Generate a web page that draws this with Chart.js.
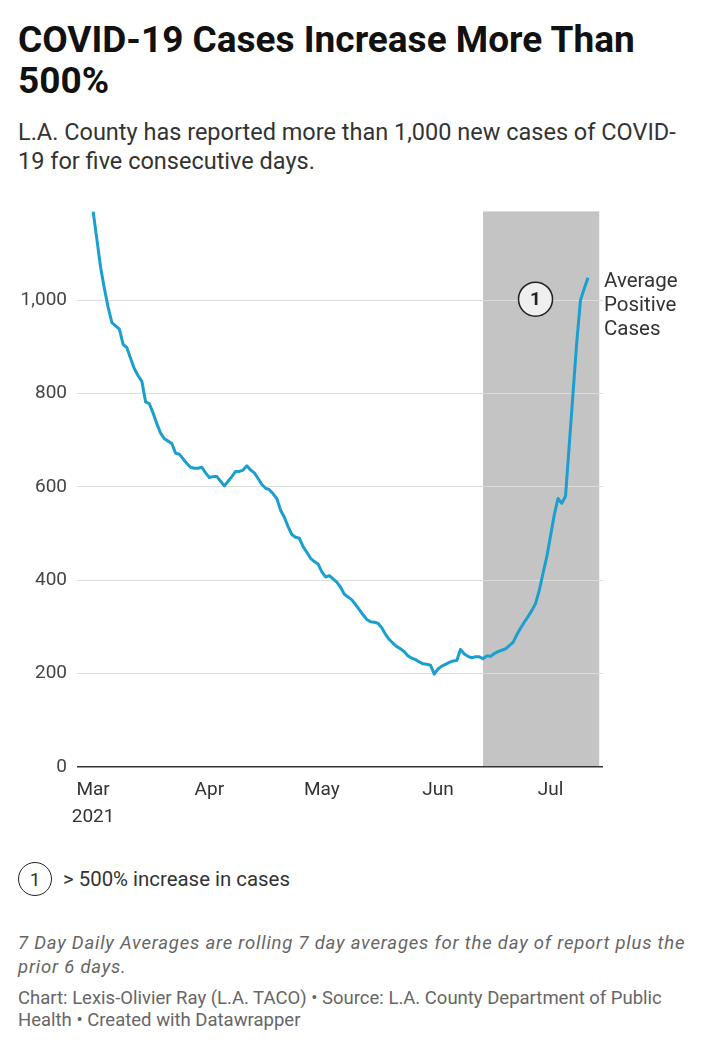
<!DOCTYPE html>
<html lang="en">
<head>
    <meta charset="UTF-8">
    <title>COVID-19 Cases Increase More Than 500%</title>
    <script src="https://cdn.jsdelivr.net/npm/chart.js@4.4.1/dist/chart.umd.min.js"></script>
    <style>
        body {
            margin: 0;
            width: 710px;
            height: 1048px;
            background: #fff;
            font-family: Roboto, Arial, sans-serif;
            color: #222;
            position: relative;
            overflow: hidden;
        }
        .title {
            position: absolute;
            left: 18px;
            top: 19px;
            margin: 0;
            font-size: 37px;
            font-weight: 700;
            line-height: 41px;
            color: #111;
        }
        .subtitle {
            position: absolute;
            left: 18px;
            top: 118px;
            margin: 0;
            font-size: 23.5px;
            line-height: 29px;
            color: #333;
        }
        .chart-box {
            position: absolute;
            left: 0;
            top: 190px;
            width: 710px;
            height: 637px;
        }
        .note-key {
            position: absolute;
            left: 18px;
            top: 862px;
            display: flex;
            align-items: center;
            font-size: 20.4px;
            color: #333;
        }
        .circle {
            width: 34px;
            height: 34px;
            border: 1.5px solid #222;
            border-radius: 50%;
            box-sizing: border-box;
            display: flex;
            align-items: center;
            justify-content: center;
            font-size: 19px;
            margin-right: 11px;
        }
        .notes {
            position: absolute;
            left: 18px;
            top: 931px;
            margin: 0;
            font-size: 18.5px;
            letter-spacing: 0.8px;
            font-style: italic;
            line-height: 24px;
            color: #666;
        }
        .credits {
            position: absolute;
            left: 18px;
            top: 987px;
            margin: 0;
            font-size: 18.5px;
            line-height: 22px;
            color: #666;
        }
    </style>
</head>
<body>
    <h1 class="title">COVID-19 Cases Increase More Than<br>500%</h1>
    <p class="subtitle">L.A. County has reported more than 1,000 new cases of COVID-<br>19 for five consecutive days.</p>
    <div class="chart-box"><canvas id="casesChart"></canvas></div>
    <div class="note-key"><div class="circle">1</div>&gt; 500% increase in cases</div>
    <p class="notes">7 Day Daily Averages are rolling 7 day averages for the day of report plus the<br>prior 6 days.</p>
    <p class="credits">Chart: Lexis-Olivier Ray (L.A. TACO) &bull; Source: L.A. County Department of Public<br>Health &bull; Created with Datawrapper</p>

    <script>
        // 7-day average of new cases, one value per day from Mar 1 2021 (day 0) to Jul 11 2021
        const cases = [
            1190, 1130, 1070, 1025, 985, 952, 945, 938, 905, 898,
            875, 853, 838, 826, 782, 778, 758, 735, 715, 703,
            698, 693, 672, 670, 660, 650, 642, 640, 640, 642,
            630, 620, 622, 622, 612, 602, 612, 622, 633, 633,
            636, 645, 636, 630, 618, 605, 597, 594, 585, 575,
            550, 535, 515, 498, 492, 490, 472, 460, 447, 440,
            435, 418, 407, 410, 403, 396, 385, 370, 364, 358,
            348, 337, 326, 316, 311, 310, 308, 298, 284, 273,
            265, 258, 253, 247, 238, 233, 230, 225, 221, 220,
            218, 199, 210, 216, 220, 224, 227, 228, 252, 242,
            237, 234, 236, 236, 232, 238, 237, 243, 247, 250,
            253, 260, 267, 283, 297, 310, 322, 335, 350, 378,
            415, 450, 495, 540, 575, 565, 580, 690, 800, 910,
            1000, 1025, 1048
        ];

        const monthTicks = [0, 31, 61, 92, 122];
        const monthLabels = [['Mar', '2021'], 'Apr', 'May', 'Jun', 'Jul'];
        const yTicks = [0, 200, 400, 600, 800, 1000];

        // highlighted period: Jun 13 to Jul 14
        const highlightRange = [104, 135];
        const markerPoint = { x: 118, y: 1002, text: '1' };
        const seriesLabel = ['Average', 'Positive', 'Cases'];

        const lineColor = '#1a9fcf';

        const highlightPlugin = {
            id: 'highlight',
            beforeDraw(chart) {
                const { ctx, chartArea, scales } = chart;
                const x0 = scales.x.getPixelForValue(highlightRange[0]);
                const x1 = scales.x.getPixelForValue(highlightRange[1]);
                ctx.save();
                ctx.fillStyle = '#c4c4c4';
                ctx.fillRect(x0, chartArea.top, x1 - x0, chartArea.bottom - chartArea.top);
                ctx.restore();
            },
            afterDatasetsDraw(chart) {
                const { ctx, scales } = chart;
                // numbered marker
                const cx = scales.x.getPixelForValue(markerPoint.x);
                const cy = scales.y.getPixelForValue(markerPoint.y);
                ctx.save();
                ctx.beginPath();
                ctx.arc(cx, cy, 17, 0, Math.PI * 2);
                ctx.fillStyle = '#efefef';
                ctx.fill();
                ctx.lineWidth = 1.5;
                ctx.strokeStyle = '#222';
                ctx.stroke();
                ctx.fillStyle = '#222';
                ctx.font = '700 19px Roboto';
                ctx.textAlign = 'center';
                ctx.textBaseline = 'middle';
                ctx.fillText(markerPoint.text, cx, cy + 1);

                // series label next to the last point
                const meta = chart.getDatasetMeta(0);
                const last = meta.data[meta.data.length - 1];
                ctx.font = '400 20.5px Roboto';
                ctx.fillStyle = '#333';
                ctx.textAlign = 'left';
                seriesLabel.forEach((t, i) => {
                    ctx.fillText(t, last.x + 16, last.y + 4 + i * 24);
                });
                ctx.restore();
            }
        };

        const ctx = document.getElementById('casesChart').getContext('2d');
        new Chart(ctx, {
            type: 'line',
            data: {
                datasets: [{
                    label: 'Average Positive Cases',
                    data: cases.map((v, i) => ({ x: i, y: v })),
                    borderColor: lineColor,
                    borderWidth: 3,
                    borderJoinStyle: 'round',
                    pointRadius: 0,
                    tension: 0
                }]
            },
            options: {
                responsive: true,
                maintainAspectRatio: false,
                animation: false,
                layout: { padding: { top: 19, right: 107, left: 0, bottom: 0 } },
                plugins: {
                    legend: { display: false },
                    tooltip: { enabled: false }
                },
                scales: {
                    x: {
                        type: 'linear',
                        min: -4.3,
                        max: 136,
                        border: { display: false },
                        grid: { display: false, drawTicks: false },
                        afterBuildTicks: (scale) => {
                            scale.ticks = monthTicks.map(v => ({ value: v }));
                        },
                        afterFit: (scale) => { scale.height = 60; },
                        ticks: {
                            autoSkip: false,
                            maxRotation: 0,
                            padding: 10,
                            color: '#333',
                            font: { family: 'Roboto', size: 19, lineHeight: 1.42 },
                            callback: (value) => monthLabels[monthTicks.indexOf(value)]
                        }
                    },
                    y: {
                        min: 0,
                        max: 1190,
                        border: { display: false },
                        afterBuildTicks: (scale) => {
                            scale.ticks = yTicks.map(v => ({ value: v }));
                        },
                        afterFit: (scale) => { scale.width = 77; },
                        grid: {
                            drawTicks: false,
                            color: (c) => c.tick && c.tick.value === 0 ? '#333' : '#dcdcdc',
                            lineWidth: (c) => c.tick && c.tick.value === 0 ? 1.5 : 1
                        },
                        ticks: {
                            padding: 10,
                            color: '#444',
                            font: { family: 'Roboto', size: 19 },
                            callback: (value) => value.toLocaleString('en-US')
                        }
                    }
                }
            },
            plugins: [highlightPlugin]
        });
    </script>
</body>
</html>
